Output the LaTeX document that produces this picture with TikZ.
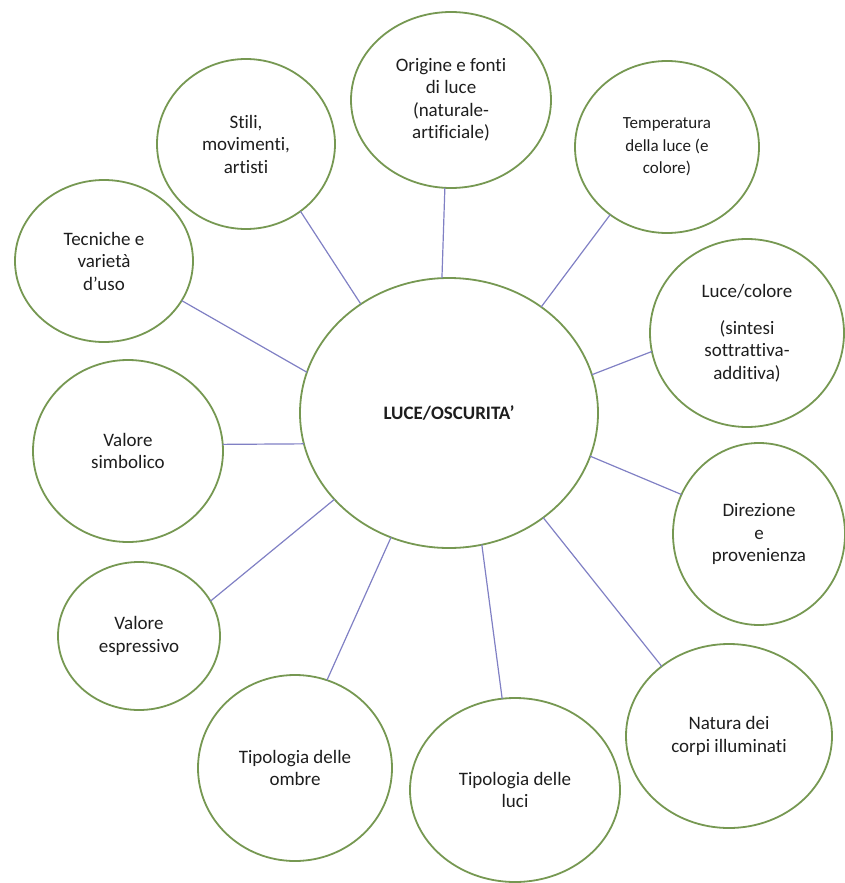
\documentclass[tikz,border=0pt]{standalone}
\usepackage{fontspec}
\setmainfont{Carlito}[Ligatures={NoCommon,NoContextual}]
\usetikzlibrary{shapes.geometric}
\definecolor{ringgreen}{RGB}{118,152,82}
\definecolor{linkblue}{RGB}{128,128,196}
\definecolor{inkgray}{RGB}{30,30,30}

\begin{document}
\begin{tikzpicture}[x=0.5pt,y=-0.5pt]
  \useasboundingbox (0,0) rectangle (845,883);
  \tikzset{
    topic/.style={ellipse,draw=ringgreen,line width=0.9pt,inner sep=0pt,outer sep=0pt,
      align=center,text=inkgray,font=\fontsize{9.5}{11.25}\selectfont},
    hub/.style={topic,font=\bfseries\fontsize{9.5}{11.25}\selectfont},
    smalltext/.style={font=\fontsize{8.5}{11.25}\selectfont},
    % edge styles
    link/.style={draw=linkblue,line width=0.6pt}
  }

  %%% Central topic
  \node[hub,minimum width=149pt,minimum height=135pt] (luce) at (449,413) {LUCE/OSCURITA’};

  %%% Upper ring
  \node[topic,minimum width=100pt,minimum height=88pt] (origine) at (451,100)
    {Origine e fonti\\di luce\\(naturale-\\artificiale)};
  \node[topic,minimum width=89pt,minimum height=85pt] (stili) at (246,144)
    {Stili,\\movimenti,\\artisti};
  \node[topic,smalltext,minimum width=92pt,minimum height=86pt] (temperatura) at (667,147)
    {Temperatura\\della luce (e\\colore)};
  \node[topic,minimum width=89pt,minimum height=81pt] (tecniche) at (104,261)
    {Tecniche e\\varietà\\d’uso};

  %%% Right side
  \node[topic,minimum width=97pt,minimum height=94pt] (colore) at (747,333)
    {Luce/colore\\[7pt](sintesi\\sottrattiva-\\additiva)};
  \node[topic,minimum width=86pt,minimum height=91pt] (direzione) at (759,534)
    {Direzione\\e\\provenienza};
  \node[topic,minimum width=103pt,minimum height=92pt] (natura) at (729,736)
    {Natura dei\\corpi illuminati};

  %%% Left side and bottom
  \node[topic,minimum width=95pt,minimum height=91pt] (simbolico) at (128,451)
    {Valore\\simbolico};
  \node[topic,minimum width=81pt,minimum height=74pt] (espressivo) at (139,636)
    {Valore\\espressivo};
  \node[topic,minimum width=97pt,minimum height=93pt] (ombre) at (295,768)
    {Tipologia delle\\ombre};
  \node[topic,minimum width=105pt,minimum height=92pt] (luci) at (515,790)
    {Tipologia delle\\luci};

  %%% Connectors
  \draw[link] (luce.129) -- (stili.-51);
  \draw[link] (luce.93) -- (origine.-94);
  \draw[link] (luce.49) -- (temperatura.230);
  \draw[link] (luce.15) -- (colore.191);
  \draw[link] (luce.-17) -- (direzione.153);
  \draw[link] (luce.-48) -- (natura.134);
  \draw[link] (luce.-76) -- (luci.98);
  \draw[link] (luce.245) -- (ombre.70);
  \draw[link] (luce.217) -- (espressivo.26);
  \draw[link] (luce.192) -- (simbolico.4);
  \draw[link] (luce.164) -- (tecniche.-27);
\end{tikzpicture}
\end{document}
